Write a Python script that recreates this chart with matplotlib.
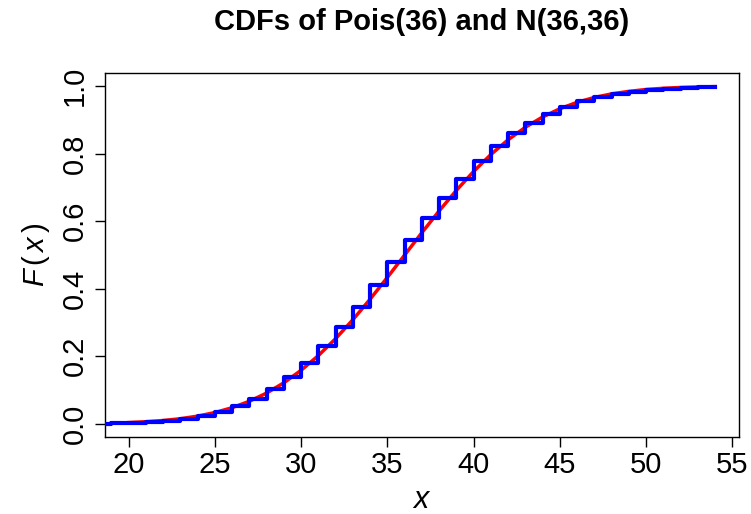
import matplotlib
matplotlib.use("Agg")
import matplotlib.pyplot as plt

plt.rcParams["font.family"] = ["Liberation Sans", "DejaVu Sans"]
plt.rcParams["mathtext.fontset"] = "custom"
plt.rcParams["mathtext.it"] = "Liberation Sans:italic"
plt.rcParams["mathtext.rm"] = "Liberation Sans"

# Poisson(36) CDF read at integers (step function)
pois_x = [18, 19, 20, 21, 22, 23, 24, 25, 26, 27, 28, 29, 30, 31, 32, 33, 34, 35, 36,
          37, 38, 39, 40, 41, 42, 43, 44, 45, 46, 47, 48, 49, 50, 51, 52, 53, 54]
pois_cdf = [0.0007, 0.0014, 0.0027, 0.0049, 0.0086, 0.0144, 0.023, 0.035, 0.052, 0.074,
            0.103, 0.138, 0.181, 0.230, 0.286, 0.347, 0.411, 0.478, 0.544,
            0.609, 0.670, 0.726, 0.777, 0.822, 0.860, 0.892, 0.918, 0.939, 0.955,
            0.968, 0.977, 0.984, 0.989, 0.993, 0.995, 0.997, 0.998]

# N(36, 36) CDF
norm_x = [20, 21, 22, 23, 24, 25, 26, 27, 28, 29, 30, 31, 32, 33, 34, 35, 36,
          37, 38, 39, 40, 41, 42, 43, 44, 45, 46, 47, 48, 49, 50, 51, 52, 53, 54]
norm_cdf = [0.0038, 0.0062, 0.0098, 0.0151, 0.0228, 0.0334, 0.0478, 0.0668, 0.0912,
            0.1217, 0.1587, 0.2023, 0.2525, 0.3085, 0.3694, 0.4338, 0.5000,
            0.5662, 0.6306, 0.6915, 0.7475, 0.7977, 0.8413, 0.8783, 0.9088, 0.9332,
            0.9522, 0.9666, 0.9772, 0.9846, 0.9902, 0.9938, 0.9962, 0.9977, 0.9987]

x_ticks = [20, 25, 30, 35, 40, 45, 50, 55]
y_ticks = [0.0, 0.2, 0.4, 0.6, 0.8, 1.0]

fig = plt.figure(figsize=(7.51, 5.14), dpi=100)
ax = fig.add_axes([0.1402, 0.1492, 0.8432, 0.7094])

ax.plot(norm_x, norm_cdf, color="red", linewidth=2.5, zorder=2)
ax.plot(pois_x, pois_cdf, color="blue", linewidth=3, drawstyle="steps-post", zorder=3)

ax.set_xlim(18.64, 55.36)
ax.set_ylim(-0.04, 1.04)
ax.set_xticks(x_ticks)
ax.set_xticklabels([str(t) for t in x_ticks])
ax.set_yticks(y_ticks)
ax.set_yticklabels([f"{t:.1f}" for t in y_ticks], rotation=90, va="center")

ax.tick_params(axis="both", direction="out", length=7, width=1, labelsize=21)
ax.tick_params(axis="x", pad=3)
ax.tick_params(axis="y", pad=5)
for s in ax.spines.values():
    s.set_linewidth(1)

ax.set_title("CDFs of Pois(36) and N(36,36)", fontsize=21, fontweight="bold", pad=31)
ax.set_xlabel("$x$", fontsize=22, labelpad=4)
ax.set_ylabel(r"$F\,(\,x\,)$", fontsize=21, labelpad=6)

fig.savefig("out.png", dpi=100)
